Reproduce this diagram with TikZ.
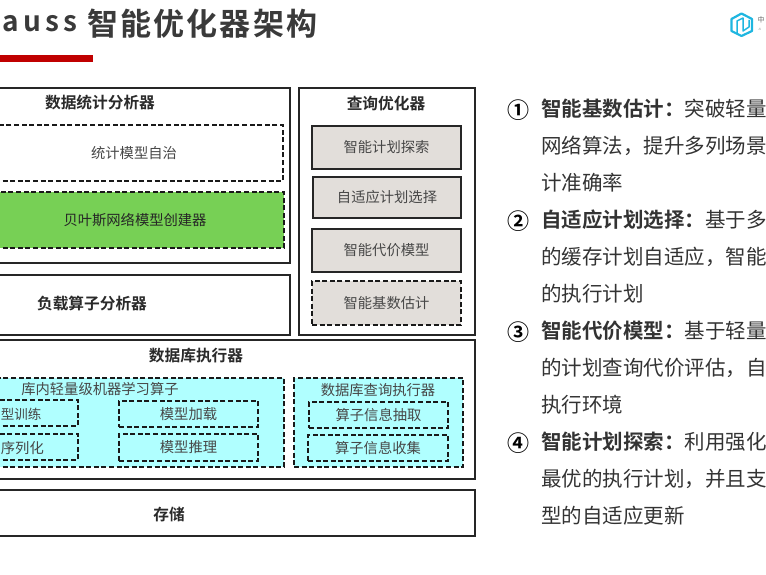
\documentclass[tikz,border=0pt]{standalone}
\usepackage{fontspec}
\setmainfont{Noto Sans CJK SC}
\newfontfamily\cjkbold{Noto Sans CJK SC Bold}
\definecolor{titlegray}{HTML}{3A3A3A}
\definecolor{barred}{HTML}{C00000}
\definecolor{leafgreen}{HTML}{77D055}
\definecolor{stonegray}{HTML}{E2DEDA}
\definecolor{palecyan}{HTML}{B0FFFF}
\definecolor{logocyan}{HTML}{1FB6E0}
\definecolor{inktext}{HTML}{2A2A2A}
\tikzset{
  x=1pt,y=1pt,
  solidbox/.style={draw=black!85,line width=1.9pt,rectangle,inner sep=0pt,text=inktext},
  dashbox/.style={draw=black!90,line width=1.6pt,dash pattern=on 5pt off 2.6pt,rectangle,inner sep=0pt,text=inktext},
  boxtext/.style={font=\fontsize{14.3}{15}\selectfont,text=black!72},
  heading/.style={inner sep=0pt,text=inktext,font=\cjkbold\fontsize{15.7}{16}\selectfont},
  plain/.style={inner sep=0pt,boxtext},
  side/.style={anchor=west,inner sep=0pt,text=black!80,font=\fontsize{20.5}{20.5}\selectfont},
  sidenum/.style={inner sep=0pt,text=black,font=\cjkbold\fontsize{22}{22}\selectfont},
}
% name, x0, y0, x1, y1, style, text
\newcommand{\pxbox}[7]{%
  \pgfmathsetmacro{\pxw}{#4-#2}\pgfmathsetmacro{\pxh}{#5-#3}%
  \pgfmathsetmacro{\pxcx}{(#2+#4)/2}\pgfmathsetmacro{\pxcy}{-(#3+#5)/2}%
  \node[#6,minimum width=\pxw pt,minimum height=\pxh pt] (#1) at (\pxcx,\pxcy) {#7};}
\begin{document}
\begin{tikzpicture}
\useasboundingbox (0,0) rectangle (766,-575);
\clip (0,0) rectangle (766,-575);
% title
\node[anchor=west,inner sep=0pt,text=titlegray,font=\cjkbold\fontsize{28}{28}\selectfont] (titlelatin) at (2,-24) {a\hspace{4.5pt}u\hspace{4.5pt}s\hspace{4.5pt}s};
\node[anchor=west,inner sep=0pt,text=titlegray,font=\cjkbold\fontsize{31}{31}\selectfont] (titlecjk) at (87,-24) {智\hspace{2.2pt}能\hspace{2.2pt}优\hspace{2.2pt}化\hspace{2.2pt}器\hspace{2.2pt}架\hspace{2.2pt}构};
\fill[barred] (0,-55) rectangle (93,-62);
% left column
\pxbox{stats}{-5}{88}{290}{263}{solidbox}{}
\node[heading] (statslabel) at (100,-103) {数据统计分析器};
\pxbox{selfgov}{-5}{125}{283}{181}{dashbox,fill=white}{}
\node[plain] (selfgovlabel) at (134,-153.5) {统计模型自治};
\pxbox{bayes}{-5}{192}{284}{248}{dashbox,fill=leafgreen}{}
\node[plain,text=black!85] (bayeslabel) at (135,-220) {贝叶斯网络模型创建器};
\pxbox{load}{-5}{275}{290}{335}{solidbox}{}
\node[heading] (loadlabel) at (92,-304) {负载算子分析器};
% optimizer
\pxbox{optimizer}{299}{88}{475}{335}{solidbox}{}
\node[heading] (optimizerlabel) at (386,-104) {查询优化器};
\pxbox{planexplore}{312}{126}{461}{169}{solidbox,fill=stonegray,boxtext}{智能计划探索}
\pxbox{planselect}{313}{177}{461}{218}{solidbox,fill=stonegray,boxtext}{自适应计划选择}
\pxbox{costmodel}{312}{229}{461}{272}{solidbox,fill=stonegray,boxtext}{智能代价模型}
\pxbox{cardest}{312}{281}{461}{325}{dashbox,fill=stonegray,boxtext}{智能基数估计}
% executor
\pxbox{executor}{-5}{340}{475}{479}{solidbox}{}
\node[heading] (executorlabel) at (196,-356) {数据库执行器};
\pxbox{mlops}{-5}{378}{284}{467}{dashbox,fill=palecyan}{}
\node[plain] (mlopslabel) at (100,-389) {库内轻量级机器学习算子};
\pxbox{queryexec}{294}{378}{463}{467}{dashbox,fill=palecyan}{}
\node[plain] (queryexeclabel) at (378,-390) {数据库查询执行器};
\pxbox{train}{-5}{400}{78}{426}{dashbox}{}
\node[plain,anchor=east,font=\fontsize{13.5}{14}\selectfont] (trainlabel) at (41.5,-414) {型训练};
\pxbox{serial}{-5}{434}{78}{460}{dashbox}{}
\node[plain,anchor=east] (seriallabel) at (44,-448) {序列化};
\pxbox{modelload}{119}{401}{258}{427}{dashbox,boxtext}{模型加载}
\pxbox{modelinfer}{119}{434}{258}{461}{dashbox,boxtext}{模型推理}
\pxbox{opextract}{309}{402}{448}{428}{dashbox,boxtext}{算子信息抽取}
\pxbox{opcollect}{308}{435}{448}{461}{dashbox,boxtext}{算子信息收集}
% storage
\pxbox{storage}{-5}{490}{475}{536}{solidbox}{}
\node[heading] (storagelabel) at (169,-514) {存储};
% right text
\node[sidenum] (n1) at (518,-110) {①};
\node[side] (l1) at (541,-109) {{\cjkbold 智能基数估计：}突破轻量};
\node[side] (l2) at (541,-146) {网络算法，提升多列场景};
\node[side] (l3) at (541,-183) {计准确率};
\node[sidenum] (n2) at (518,-221) {②};
\node[side] (l4) at (541,-220) {{\cjkbold 自适应计划选择：}基于多};
\node[side] (l5) at (541,-257) {的缓存计划自适应，智能};
\node[side] (l6) at (541,-294) {的执行计划};
\node[sidenum] (n3) at (518,-332) {③};
\node[side] (l7) at (541,-331) {{\cjkbold 智能代价模型：}基于轻量};
\node[side] (l8) at (541,-368) {的计划查询代价评估，自};
\node[side] (l9) at (541,-405) {执行环境};
\node[sidenum] (n4) at (518,-443) {④};
\node[side] (l10) at (541,-442) {{\cjkbold 智能计划探索：}利用强化};
\node[side] (l11) at (541,-479) {最优的执行计划，并且支};
\node[side] (l12) at (541,-516) {型的自适应更新};
% logo
\draw[logocyan,line width=2.2pt,line join=round] (741.5,-13.5) -- (752,-19) -- (752,-31) -- (741.5,-36) -- (731.5,-31) -- (731.5,-19) -- cycle;
\draw[logocyan,line width=1.5pt,line join=round] (737,-33) -- (737,-21) -- (743,-18) -- (743,-31) -- (749,-27) -- (749,-20);
\node[inner sep=0pt,text=black!60,font=\fontsize{7}{7}\selectfont] (logotext) at (761,-20) {中};
\node[inner sep=0pt,text=black!40,font=\fontsize{3}{3}\selectfont] (logosub) at (760,-29) {AI};
\end{tikzpicture}
\end{document}
